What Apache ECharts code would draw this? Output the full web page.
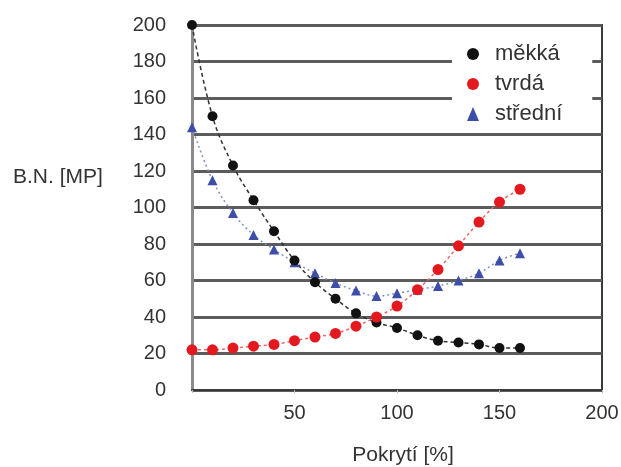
<!DOCTYPE html>
<html><head><meta charset="utf-8">
<script src="https://cdn.jsdelivr.net/npm/echarts@6/dist/echarts.min.js"></script>
<style>html,body{margin:0;padding:0;background:#fff}#c{width:621px;height:467px}</style>
</head><body><div id="c"></div>
<script>
const coverage = [0,10,20,30,40,50,60,70,80,90,100,110,120,130,140,150,160];
const mekka   = [200,150,123,104,87,71,59,50,42,37,34,30,27,26,25,23,23];
const tvrda   = [22,22,23,24,25,27,29,31,35,40,46,55,66,79,92,103,110];
const stredni = [144,115,97,85,77,70,64,58.6,54.5,51.5,53,55,57,60,64,71,75];
const seriesNames = ['měkká','tvrdá','střední'];
const yTicks = {min:0, max:200, step:20};
const xTicks = {min:0, max:200, step:50};
const yName = 'B.N. [MP]';
const xName = 'Pokrytí [%]';

const pairs = arr => coverage.map((x,i)=>[x,arr[i]]);
const font = 'Liberation Sans, Arial, sans-serif';
const chart = echarts.init(document.getElementById('c'));
chart.setOption({
  animation:false,
  backgroundColor:'#fff',
  grid:{left:192,right:19,top:25,bottom:77,outerBoundsMode:'none',containLabel:false,show:true,borderColor:'#3a3a3a',borderWidth:2,backgroundColor:'transparent'},
  xAxis:{type:'value',min:xTicks.min,max:xTicks.max,interval:xTicks.step,
    name:xName,nameLocation:'middle',nameGap:55,
    nameTextStyle:{fontFamily:font,fontSize:21,color:'#333',padding:[0,0,0,12]},
    axisLine:{show:true,lineStyle:{color:'#3a3a3a',width:2}},
    axisTick:{show:true,length:3,lineStyle:{color:'#bbb'}},
    splitLine:{show:false},
    axisLabel:{fontFamily:font,fontSize:20,color:'#333',margin:13,formatter:v=>v===0?'':String(v)}},
  yAxis:{type:'value',min:yTicks.min,max:yTicks.max,interval:yTicks.step,
    axisLine:{show:true,lineStyle:{color:'#8a8a8a',width:3}},
    axisTick:{show:false},
    splitLine:{show:true,lineStyle:{color:'#5c5c5c',width:3}},
    axisLabel:{fontFamily:font,fontSize:20,color:'#333',margin:26}},
  graphic:[{type:'text',left:13,top:167,style:{text:yName,font:'21px '+font,fill:'#333'}}],
  legend:{orient:'vertical',left:452,top:28,
    padding:[15,30,3,15],itemGap:8,itemWidth:12,itemHeight:14,
    backgroundColor:'#fff',
    textStyle:{fontFamily:font,fontSize:22,color:'#333',padding:[0,0,0,11]},
    data:[{name:seriesNames[0],icon:'circle'},{name:seriesNames[1],icon:'circle'},{name:seriesNames[2],icon:'triangle'}]},
  series:[
    {name:seriesNames[2],type:'line',smooth:0.4,data:pairs(stredni),symbol:'triangle',symbolSize:10,
      itemStyle:{color:'#3d4ea6'},lineStyle:{color:'#8090c8',width:1.5,type:[2,3]}},
    {name:seriesNames[0],type:'line',smooth:0.4,data:pairs(mekka),symbol:'circle',symbolSize:10,
      itemStyle:{color:'#111'},lineStyle:{color:'#333',width:1.5,type:[4,3]}},
    {name:seriesNames[1],type:'line',smooth:0.4,data:pairs(tvrda),symbol:'circle',symbolSize:11,
      itemStyle:{color:'#e3191f'},lineStyle:{color:'#e86a6a',width:1.5,type:[3,3]}}
  ]
});
</script></body></html>
